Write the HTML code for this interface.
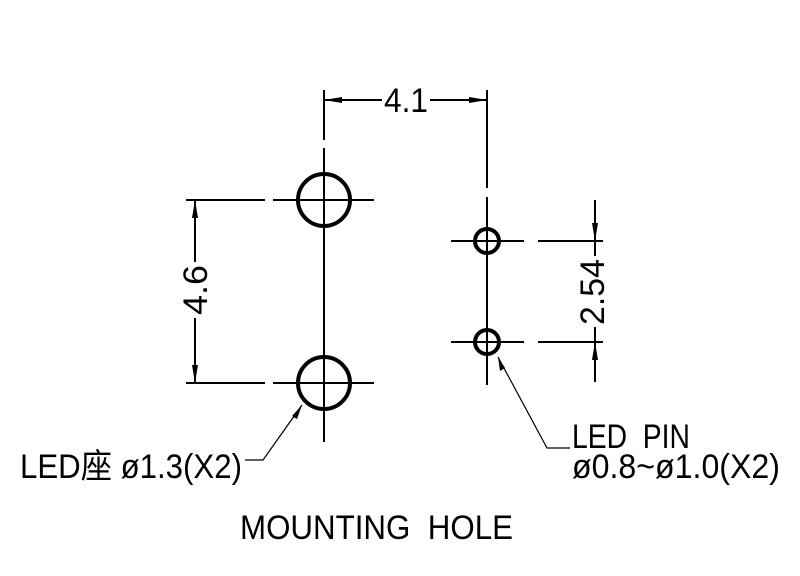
<!DOCTYPE html>
<html><head><meta charset="utf-8"><style>body{margin:0;background:#fff}svg{display:block}text{white-space:pre}</style></head><body>
<svg width="800" height="576" viewBox="0 0 800 576" xmlns="http://www.w3.org/2000/svg" font-family="Liberation Sans, Noto Sans CJK TC, sans-serif">
<g stroke="#000" fill="none" stroke-width="2">
<line x1="324" y1="90" x2="324" y2="140"/>
<line x1="324" y1="148" x2="324" y2="442"/>
<line x1="487" y1="90" x2="487" y2="188"/>
<line x1="487" y1="197" x2="487" y2="385"/>
<line x1="186" y1="200" x2="265" y2="200"/>
<line x1="273" y1="200" x2="374" y2="200"/>
<line x1="186" y1="383" x2="265" y2="383"/>
<line x1="273" y1="383" x2="374" y2="383"/>
<line x1="451" y1="241" x2="524" y2="241"/>
<line x1="538" y1="241" x2="603" y2="241"/>
<line x1="451" y1="342" x2="524" y2="342"/>
<line x1="538" y1="342" x2="603" y2="342"/>
<line x1="324" y1="100" x2="382" y2="100"/>
<line x1="430" y1="100" x2="487" y2="100"/>
<line x1="195" y1="200" x2="195" y2="262"/>
<line x1="195" y1="318" x2="195" y2="383"/>
<line x1="595" y1="200" x2="595" y2="241"/>
<line x1="595" y1="241" x2="595" y2="256"/>
<line x1="595" y1="327" x2="595" y2="342"/>
<line x1="595" y1="342" x2="595" y2="382"/>
</g>
<g stroke="#000" fill="none" stroke-width="4">
<circle cx="324" cy="200" r="26"/>
<circle cx="324" cy="383" r="26"/>
<circle cx="487" cy="241" r="12"/>
<circle cx="487" cy="342" r="12"/>
</g>
<g stroke="#000" fill="none" stroke-width="1.2">
<polyline points="302,405 263,460 245,460"/>
<polyline points="498,357 547,448 570,448"/>
</g>
<g fill="#000">
<polygon points="324,100 342,97 342,103"/>
<polygon points="487,100 469,97 469,103"/>
<polygon points="195,200 192,218 198,218"/>
<polygon points="195,383 192,365 198,365"/>
<polygon points="595,241 592,223 598,223"/>
<polygon points="595,342 592,360 598,360"/>
<polygon points="302,405 292,416 297,419"/>
<polygon points="498,357 500,371 505,368"/>
</g>
<g fill="#000" font-size="34">
<text x="384" y="112" textLength="44" lengthAdjust="spacingAndGlyphs">4.1</text>
<text transform="translate(207,290) rotate(-90)" text-anchor="middle" textLength="50" lengthAdjust="spacingAndGlyphs">4.6</text>
<text transform="translate(604,292) rotate(-90)" text-anchor="middle" textLength="66" lengthAdjust="spacingAndGlyphs">2.54</text>
<text x="20" y="478" textLength="222" lengthAdjust="spacingAndGlyphs">LED座 ø1.3(X2)</text>
<text x="572" y="448" textLength="118" lengthAdjust="spacingAndGlyphs">LED  PIN</text>
<text x="572" y="478" textLength="208" lengthAdjust="spacingAndGlyphs">ø0.8~ø1.0(X2)</text>
<text x="240" y="539" textLength="273" lengthAdjust="spacingAndGlyphs">MOUNTING  HOLE</text>
</g>
</svg>
</body></html>
